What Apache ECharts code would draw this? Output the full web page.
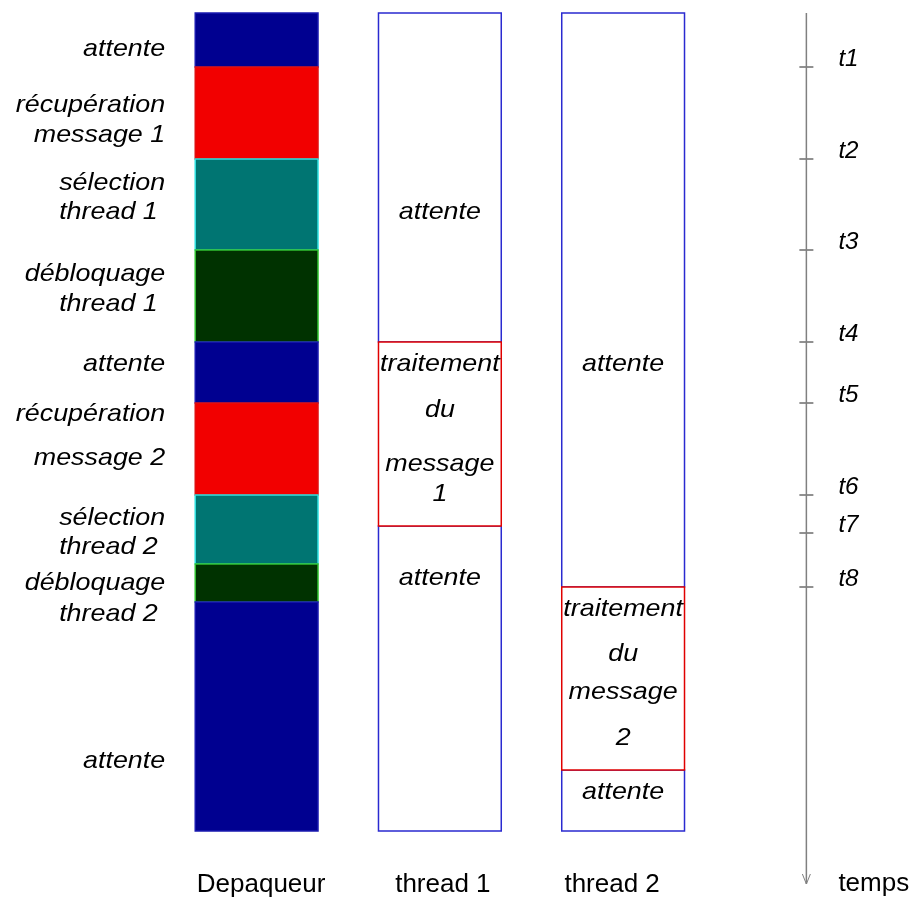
<!DOCTYPE html>
<html>
<head>
<meta charset="utf-8">
<script src="https://cdn.jsdelivr.net/npm/echarts@6/dist/echarts.min.js"></script>
<style>
html, body { margin: 0; padding: 0; background: #ffffff; }
#chart { width: 914px; height: 898px; }
</style>
</head>
<body>
<div id="chart"></div>
<script type="text/javascript">
// columns (the last one carries the time arrow)
var columns = ['Depaqueur', 'thread 1', 'thread 2', ''];

// segment boundaries, in time units from the top
var depaqueurBounds = [0, 54, 146, 237, 329, 390, 482, 551, 589, 818];
var depaqueurKinds = ['attente', 'recup', 'select', 'debloq', 'attente', 'recup', 'select', 'debloq', 'attente'];
var thread1Bounds = [0, 329, 513, 818];
var thread1Kinds = ['wait', 'work', 'wait'];
var thread2Bounds = [0, 574, 757, 818];
var thread2Kinds = ['wait', 'work', 'wait'];

// time axis
var timeTicks = [54, 146, 237, 329, 390, 482, 520, 574];
var timeLabels = ['t1', 't2', 't3', 't4', 't5', 't6', 't7', 't8'];
var timeEnd = 871;
var timeName = 'temps';

// text beside / inside the columns: [text, time]
var depaqueurNotes = [
    ['attente', 36],
    ['récupération', 92], ['message 1', 122],
    ['sélection', 170], ['thread 1 ', 199],
    ['débloquage', 261], ['thread 1 ', 291],
    ['attente', 351],
    ['récupération', 401], ['message 2', 445],
    ['sélection', 505], ['thread 2 ', 534],
    ['débloquage', 570], ['thread 2 ', 601],
    ['attente', 748]
];
var thread1Notes = [
    ['attente', 199], ['traitement', 351], ['du', 397], ['message', 451], ['1', 481], ['attente', 565]
];
var thread2Notes = [
    ['attente', 351], ['traitement', 596], ['du', 641], ['message', 679], ['2', 725], ['attente', 779]
];

var kindStyle = {
    attente: { fill: '#000090', stroke: '#1a1ab0' },
    recup:   { fill: '#f20000', stroke: '#e01010' },
    select:  { fill: '#007572', stroke: '#30e0e0' },
    debloq:  { fill: '#003200', stroke: '#30c030' },
    wait:    { fill: '#ffffff', stroke: '#2a2ad0' },
    work:    { fill: '#ffffff', stroke: '#e00000' }
};

var FONT = 'Liberation Sans';
// small sideways shifts of the column names, as in the original drawing
var namePadding = [[0, 0, 0, 9], [0, 0, 0, 6], [0, 22, 0, 0], [0, 0, 0, 0]];

// build segment items
var segments = [];
function addSegments(col, bounds, kinds) {
    for (var i = 0; i < kinds.length; i++) {
        segments.push({ value: [col, bounds[i], bounds[i + 1]], kind: kinds[i] });
    }
}
addSegments(0, depaqueurBounds, depaqueurKinds);
addSegments(1, thread1Bounds, thread1Kinds);
addSegments(2, thread2Bounds, thread2Kinds);

var notes = [];
depaqueurNotes.forEach(function (n) { notes.push({ value: [0, n[1]], text: n[0], side: 'left' }); });
thread1Notes.forEach(function (n) { notes.push({ value: [1, n[1]], text: n[0], side: 'in' }); });
thread2Notes.forEach(function (n) { notes.push({ value: [2, n[1]], text: n[0], side: 'in' }); });

function italicText(x, y, text, align) {
    return {
        type: 'text',
        x: x, y: y,
        scaleX: 1.12,
        style: {
            text: text,
            fill: '#000000',
            fontSize: 24,
            fontStyle: 'italic',
            fontFamily: FONT,
            align: align,
            verticalAlign: 'middle'
        }
    };
}

var dom = document.getElementById('chart');
var myChart = echarts.init(dom);
var option = {
    animation: false,
    backgroundColor: '#ffffff',
    grid: { left: 165, right: 16, top: 13, bottom: 67 },
    xAxis: {
        type: 'category',
        data: columns.map(function (c, i) {
            return { value: c, textStyle: { padding: namePadding[i] } };
        }),
        axisLine: { show: false },
        axisTick: { show: false },
        splitLine: { show: false },
        axisLabel: { color: '#000000', fontSize: 26, fontFamily: FONT, margin: 41 }
    },
    yAxis: {
        type: 'value',
        inverse: true,
        min: 0,
        max: 818,
        show: false
    },
    series: [
        {
            type: 'custom',
            name: 'segments',
            data: segments,
            encode: { x: 0, y: [1, 2] },
            renderItem: function (params, api) {
                var item = segments[params.dataIndex];
                var p0 = api.coord([api.value(0), api.value(1)]);
                var p1 = api.coord([api.value(0), api.value(2)]);
                var w = api.size([1, 0])[0] * 0.67;
                var st = kindStyle[item.kind];
                return {
                    type: 'rect',
                    z2: item.kind === 'work' ? 2 : 1,
                    shape: { x: p0[0] - w / 2, y: p0[1], width: w, height: p1[1] - p0[1] },
                    style: { fill: st.fill, stroke: st.stroke, lineWidth: 1.5 }
                };
            }
        },
        {
            type: 'custom',
            name: 'notes',
            data: notes,
            encode: { x: 0, y: 1 },
            z: 3,
            renderItem: function (params, api) {
                var n = notes[params.dataIndex];
                var p = api.coord([api.value(0), api.value(1)]);
                var w = api.size([1, 0])[0] * 0.67;
                if (n.side === 'left') {
                    return italicText(p[0] - w / 2 - 30, p[1], n.text, 'right');
                }
                return italicText(p[0], p[1], n.text, 'center');
            }
        },
        {
            type: 'custom',
            name: 'time ticks',
            data: timeTicks.map(function (t) { return [3, t]; }),
            encode: { x: 0, y: 1 },
            renderItem: function (params, api) {
                var p = api.coord([api.value(0), api.value(1)]);
                var label = italicText(p[0] + 32, p[1] - 7, timeLabels[params.dataIndex], 'left');
                label.scaleX = 1.05;
                label.style.fontSize = 23;
                return {
                    type: 'group',
                    children: [
                        {
                            type: 'line',
                            shape: { x1: p[0] - 7, y1: p[1], x2: p[0] + 7, y2: p[1] },
                            style: { stroke: '#222222', lineWidth: 1 }
                        },
                        label
                    ]
                };
            }
        },
        {
            type: 'custom',
            name: 'time arrow',
            data: [[3, 0, timeEnd]],
            encode: { x: 0, y: [1, 2] },
            renderItem: function (params, api) {
                var p0 = api.coord([api.value(0), api.value(1)]);
                var p1 = api.coord([api.value(0), api.value(2)]);
                return {
                    type: 'group',
                    children: [
                        {
                            type: 'line',
                            shape: { x1: p0[0], y1: p0[1], x2: p1[0], y2: p1[1] },
                            style: { stroke: '#808080', lineWidth: 1.5 }
                        },
                        {
                            type: 'polyline',
                            shape: { points: [[p1[0] - 4, p1[1] - 10], [p1[0], p1[1]], [p1[0] + 4, p1[1] - 10]] },
                            style: { stroke: '#808080', fill: null, lineWidth: 1 }
                        },
                        {
                            type: 'text',
                            x: p1[0] + 32, y: p1[1],
                            style: {
                                text: timeName, fill: '#000000', fontSize: 26, fontFamily: FONT,
                                align: 'left', verticalAlign: 'middle'
                            }
                        }
                    ]
                };
            }
        }
    ]
};

if (option && typeof option === "object") {
    myChart.setOption(option, true);
}
</script>
</body>
</html>
